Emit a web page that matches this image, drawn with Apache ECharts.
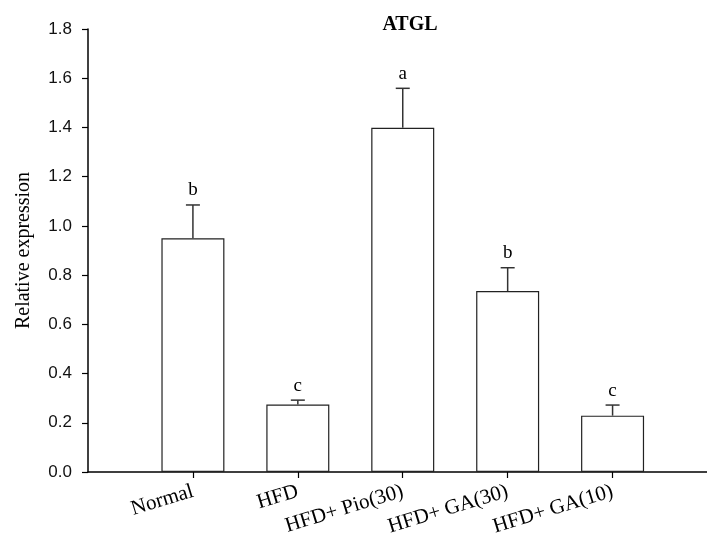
<!DOCTYPE html>
<html>
<head>
<meta charset="utf-8">
<script src="https://cdn.jsdelivr.net/npm/echarts@6/dist/echarts.min.js"></script>
<style>
  html, body { margin: 0; padding: 0; background: #fff; }
  #chart { width: 707px; height: 539px; }
</style>
</head>
<body>
<div id="chart"></div>
<script>
// 数据
const categories = ['Normal', 'HFD', 'HFD+ Pio(30)', 'HFD+ GA(30)', 'HFD+ GA(10)']
const means = [0.95, 0.274, 1.399, 0.735, 0.229]
const errors = [0.135, 0.018, 0.16, 0.095, 0.043]
const letters = ['b', 'c', 'a', 'b', 'c']
const yTicks = [0, 0.2, 0.4, 0.6, 0.8, 1.0, 1.2, 1.4, 1.6, 1.8]

// x 位置 1..5
const positions = categories.map((c, i) => i + 1)
const barData = means.map((v, i) => [positions[i], v])
const errData = means.map((v, i) => [positions[i], v, v + errors[i], letters[i]])

const chart = echarts.init(document.getElementById('chart'))

const option = {
    animation: false,
    title: {
        text: 'ATGL',
        left: 405,
        top: 10,
        textAlign: 'center',
        textStyle: {
            fontFamily: 'Liberation Serif',
            fontWeight: 'bold',
            fontSize: 20,
            color: '#000'
        }
    },
    grid: {
        left: 88,
        right: 0,
        top: 29,
        bottom: 67
    },
    xAxis: {
        type: 'value',
        min: 0,
        max: 5.9,
        splitLine: { show: false },
        axisLine: { lineStyle: { color: '#000', width: 1.5 } },
        axisTick: {
            customValues: positions,
            length: 6,
            lineStyle: { color: '#000', width: 1.2 }
        },
        axisLabel: {
            customValues: positions,
            rotate: 17,
            margin: 19,
            fontFamily: 'Liberation Serif',
            fontSize: 21,
            color: '#000',
            formatter: v => categories[Math.round(v) - 1] || ''
        }
    },
    yAxis: {
        type: 'value',
        min: 0,
        max: 1.8,
        interval: 0.2,
        name: 'Relative expression',
        nameLocation: 'middle',
        nameGap: 54,
        nameTextStyle: {
            fontFamily: 'Liberation Serif',
            fontSize: 20,
            color: '#000'
        },
        splitLine: { show: false },
        axisLine: { show: true, lineStyle: { color: '#000', width: 1.5 } },
        axisTick: {
            show: true,
            length: 6,
            lineStyle: { color: '#000', width: 1.2 }
        },
        axisLabel: {
            customValues: yTicks,
            margin: 16,
            fontFamily: 'Liberation Sans',
            fontSize: 17,
            color: '#111',
            formatter: v => v.toFixed(1)
        }
    },
    series: [
        {
            type: 'bar',
            data: barData,
            barWidth: 63,
            itemStyle: {
                color: '#fff',
                borderColor: '#222',
                borderWidth: 1.2
            }
        },
        {
            // 误差线 + 显著性字母
            type: 'custom',
            data: errData,
            z: 3,
            renderItem: function (params, api) {
                const x = api.value(0)
                const base = api.coord([x, api.value(1)])
                const top = api.coord([x, api.value(2)])
                const cap = 7
                const style = { stroke: '#333', lineWidth: 1.5 }
                return {
                    type: 'group',
                    children: [
                        {
                            type: 'line',
                            shape: { x1: base[0], y1: base[1], x2: top[0], y2: top[1] },
                            style: style
                        },
                        {
                            type: 'line',
                            shape: { x1: top[0] - cap, y1: top[1], x2: top[0] + cap, y2: top[1] },
                            style: style
                        },
                        {
                            type: 'text',
                            x: top[0],
                            y: top[1] - 5,
                            style: {
                                text: api.value(3),
                                textAlign: 'center',
                                textVerticalAlign: 'bottom',
                                fontFamily: 'Liberation Serif',
                                fontSize: 19,
                                fill: '#000'
                            }
                        }
                    ]
                }
            }
        }
    ]
}

chart.setOption(option)
</script>
</body>
</html>
